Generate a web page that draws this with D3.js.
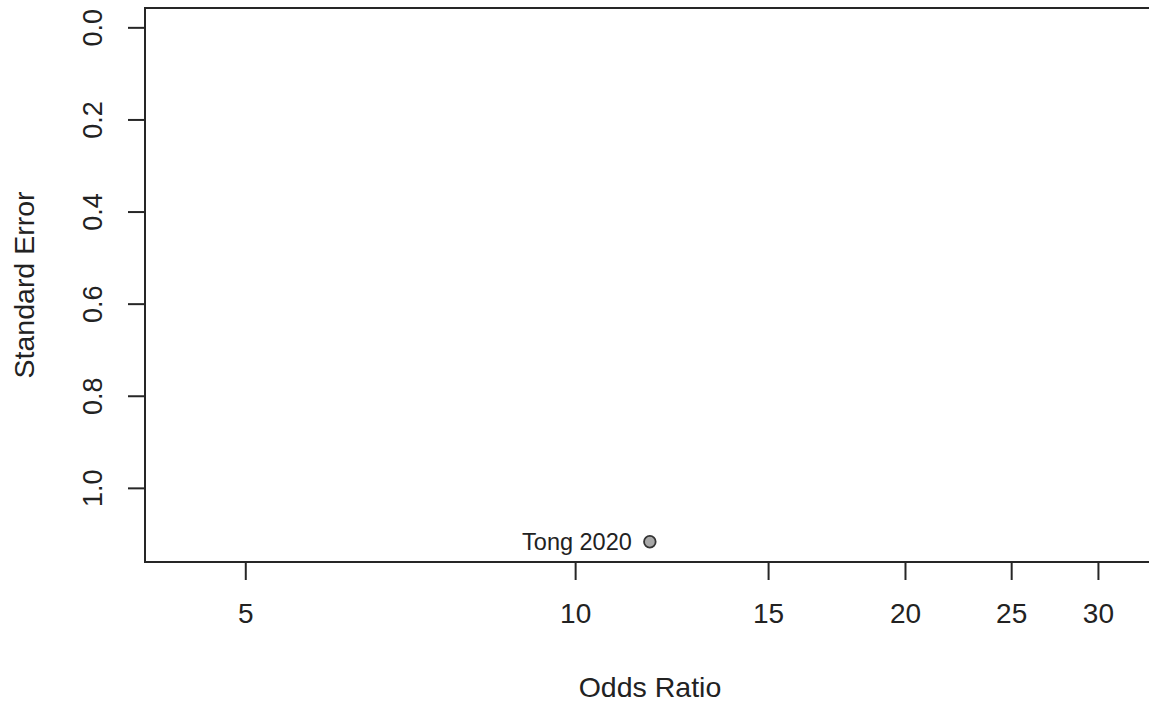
<!DOCTYPE html>
<html>
<head>
<meta charset="utf-8">
<script src="https://cdn.jsdelivr.net/npm/d3@7"></script>
<style>
  html, body { margin: 0; padding: 0; background: #fff; }
  svg { display: block; }
  text { font-family: "Liberation Sans", Arial, sans-serif; fill: #222; }
</style>
</head>
<body>
<svg id="chart" width="1149" height="706"></svg>
<script>
// Funnel plot: study effect (odds ratio, log scale) against its standard error
const studies = ["Tong 2020"];
const oddsRatios = [11.7];
const standardErrors = [1.117];

const xTicks = [5, 10, 15, 20, 25, 30];
const yTicks = [0.0, 0.2, 0.4, 0.6, 0.8, 1.0];
const xLimits = [4.05, 34.54];
const yLimits = [-0.042, 1.161];

const svg = d3.select("#chart");
const plot = { left: 145, top: 8, right: 1165, bottom: 562 };

const x = d3.scaleLog().domain(xLimits).range([plot.left, plot.right]);
const y = d3.scaleLinear().domain(yLimits).range([plot.top, plot.bottom]);

const ink = "#262626";

// plot frame
svg.append("rect")
  .attr("x", plot.left).attr("y", plot.top)
  .attr("width", plot.right - plot.left).attr("height", plot.bottom - plot.top)
  .attr("fill", "none").attr("stroke", ink).attr("stroke-width", 2);

// x axis
const xAxis = d3.axisBottom(x).tickValues(xTicks).tickFormat(d3.format("d"))
  .tickSize(18).tickPadding(12);
const gx = svg.append("g").attr("transform", `translate(0,${plot.bottom})`).call(xAxis);
gx.select(".domain").remove();
gx.selectAll(".tick line").attr("stroke", ink).attr("stroke-width", 2);
gx.selectAll(".tick text")
  .attr("y", 61).attr("dy", 0)
  .style("font-size", "28px").attr("fill", "#222");

// y axis with rotated labels
const yAxis = d3.axisLeft(y).tickValues(yTicks).tickFormat(d3.format(".1f"))
  .tickSize(17);
const gy = svg.append("g").attr("transform", `translate(${plot.left},0)`).call(yAxis);
gy.select(".domain").remove();
gy.selectAll(".tick line").attr("stroke", ink).attr("stroke-width", 2);
gy.selectAll(".tick text")
  .attr("x", null).attr("dy", null)
  .attr("transform", "translate(-43,0) rotate(-90)")
  .attr("text-anchor", "middle")
  .attr("y", 0)
  .style("font-size", "27px").attr("fill", "#222");

// axis titles
svg.append("text")
  .attr("x", (plot.left + 1155) / 2).attr("y", 697)
  .attr("text-anchor", "middle")
  .style("font-size", "28.5px")
  .text("Odds Ratio");

svg.append("text")
  .attr("transform", `translate(34,${(plot.top + plot.bottom) / 2}) rotate(-90)`)
  .attr("text-anchor", "middle")
  .style("font-size", "28.5px")
  .text("Standard Error");

// studies
const data = studies.map((s, i) => ({ name: s, or: oddsRatios[i], se: standardErrors[i] }));

svg.selectAll("circle.study").data(data).enter().append("circle")
  .attr("class", "study")
  .attr("cx", d => x(d.or)).attr("cy", d => y(d.se))
  .attr("r", 5.8)
  .attr("fill", "#a8a8a8").attr("stroke", "#333").attr("stroke-width", 1.8);

svg.selectAll("text.study").data(data).enter().append("text")
  .attr("class", "study")
  .attr("x", d => x(d.or) - 18).attr("y", d => y(d.se) + 8)
  .attr("text-anchor", "end")
  .style("font-size", "23.5px")
  .text(d => d.name);
</script>
</body>
</html>
